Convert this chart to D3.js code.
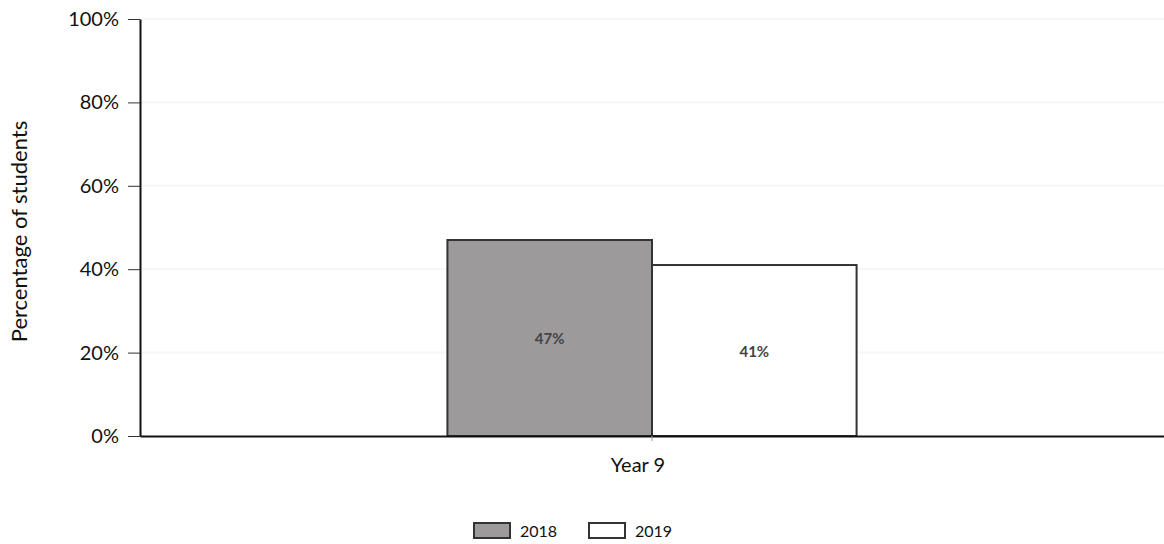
<!DOCTYPE html>
<html><head><meta charset="utf-8">
<script src="https://cdn.jsdelivr.net/npm/d3@7/dist/d3.min.js"></script>
<style>body{margin:0;background:#fff}svg{display:block}text{font-family:Lato,"Open Sans",sans-serif}</style>
</head><body><svg id="c" width="1164" height="544"></svg>
<script>
const categories = ["Year 9"];
const seriesNames = ["2018", "2019"];
const values2018 = [47];
const values2019 = [41];
const yTicks = [0, 20, 40, 60, 80, 100];
const yTitle = "Percentage of students";

const svg = d3.select("#c");
const m = {l:140, r:0, t:19, b:108};
const W = 1164, H = 544;
const x0 = d3.scaleBand().domain(categories).range([m.l, W - m.r]).paddingInner(0.429).paddingOuter(0.429);
const x1 = d3.scaleBand().domain(seriesNames).range([0, x0.bandwidth()]);
const y = d3.scaleLinear().domain([0, 100]).range([H - m.b, m.t]);
const fills = {"2018":"#9c9a9b", "2019":"#ffffff"};

// faint gridlines
svg.append("g").selectAll("line").data(yTicks.filter(d=>d>0)).join("line")
  .attr("x1", m.l).attr("x2", W).attr("y1", d=>y(d)).attr("y2", d=>y(d))
  .attr("stroke", "#f6f6f6").attr("stroke-width", 2);

const data = categories.map((c,i)=>({cat:c, vals:[{s:"2018", v:values2018[i]},{s:"2019", v:values2019[i]}]}));
const g = svg.append("g").selectAll("g").data(data).join("g")
  .attr("transform", d=>`translate(${x0(d.cat)},0)`);
g.selectAll("rect").data(d=>d.vals).join("rect")
  .attr("x", d=>x1(d.s)).attr("width", x1.bandwidth())
  .attr("y", d=>y(d.v)).attr("height", d=>y(0)-y(d.v))
  .attr("fill", d=>fills[d.s]).attr("stroke", "#333").attr("stroke-width", 2);
g.selectAll("text").data(d=>d.vals).join("text")
  .attr("x", d=>x1(d.s)+x1.bandwidth()/2)
  .attr("y", d=>(y(d.v)+y(0))/2 + 6)
  .attr("text-anchor","middle").attr("font-size",15).attr("font-weight","bold")
  .attr("fill","#444").text(d=>d.v+"%");

// y axis
const ya = svg.append("g").attr("transform",`translate(${m.l},0)`)
  .call(d3.axisLeft(y).tickValues(yTicks).tickFormat(d=>d+"%").tickSize(12).tickSizeOuter(0));
ya.select(".domain").attr("stroke","#111").attr("stroke-width",2);
ya.selectAll(".tick line").attr("stroke","#333").attr("stroke-width",1);
ya.selectAll(".tick text").attr("font-size",20).attr("fill","#111").attr("x",-21);

// x axis
const xa = svg.append("g").attr("transform",`translate(0,${y(0)})`)
  .call(d3.axisBottom(x0).tickSize(5).tickSizeOuter(0));
xa.select(".domain").attr("stroke","#111").attr("stroke-width",2);
xa.selectAll(".tick line").attr("stroke","#999");
xa.selectAll(".tick text").attr("font-size",20).attr("fill","#111").attr("y",22).attr("dx",-14);

svg.append("text").attr("transform",`translate(27,${(y(0)+y(100))/2 + 4}) rotate(-90)`)
  .attr("text-anchor","middle").attr("font-size",22).attr("fill","#111").text(yTitle);

// legend
const lg = svg.append("g");
const legX = [474, 589];
seriesNames.forEach((s,i)=>{
  lg.append("rect").attr("x",legX[i]).attr("y",523).attr("width",36).attr("height",15)
    .attr("fill",fills[s]).attr("stroke","#333").attr("stroke-width",2);
  lg.append("text").attr("x",legX[i]+46).attr("y",537).attr("font-size",16).attr("fill","#111").text(s);
});
</script></body></html>
